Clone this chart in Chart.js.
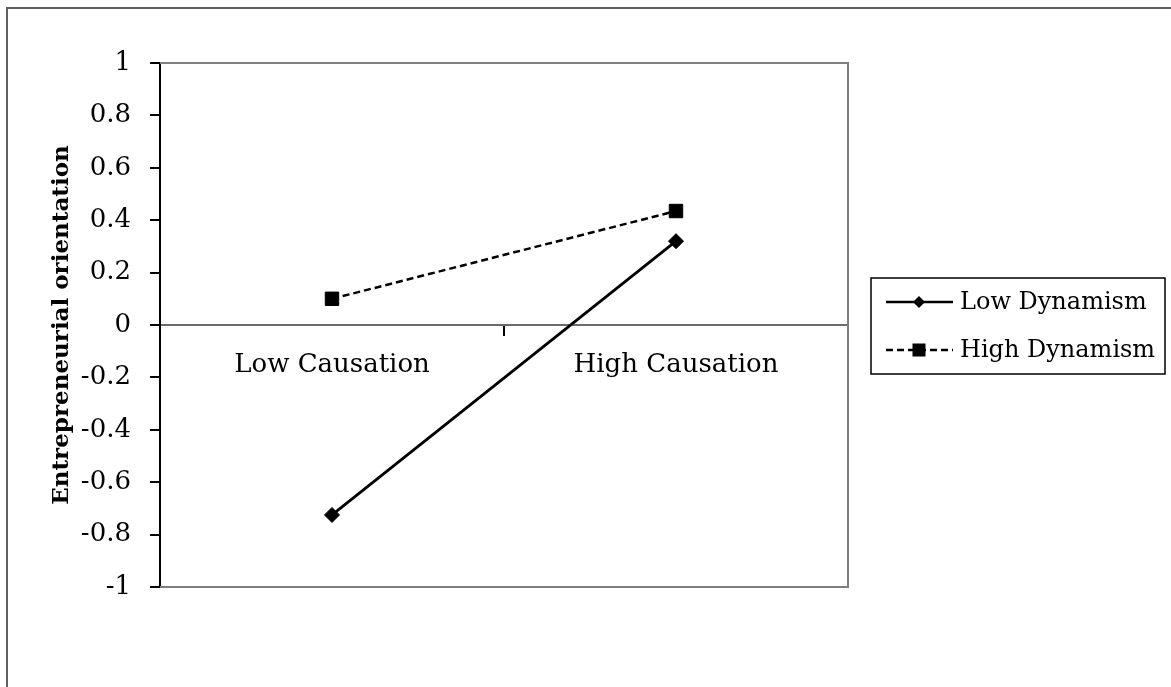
<!DOCTYPE html>
<html>
<head>
<meta charset="utf-8">
<script src="https://cdn.jsdelivr.net/npm/chart.js@4/dist/chart.umd.min.js"></script>
<style>
    html, body { margin: 0; padding: 0; background: #fff; overflow: hidden; }
    #chart { display: block; }
</style>
</head>
<body>
<canvas id="chart" width="1171" height="687"></canvas>
<script>
// Data
const categories = ["Low Causation", "High Causation"];
const lowDynamism = [-0.725, 0.32];
const highDynamism = [0.10, 0.435];
const seriesNames = ["Low Dynamism", "High Dynamism"];
const yTitle = "Entrepreneurial orientation";

const serif = "'DejaVu Serif', serif";

// Outer frame (left and top edges) plus gray frame around the plot area
const plotFrame = {
    id: "plotFrame",
    beforeDatasetsDraw(chart) {
        const { ctx, chartArea: a } = chart;
        ctx.save();
        ctx.strokeStyle = "#606060";
        ctx.lineWidth = 2;
        ctx.beginPath();
        ctx.moveTo(7, 700);
        ctx.lineTo(7, 8);
        ctx.lineTo(1200, 8);
        ctx.stroke();

        ctx.strokeStyle = "#7f7f7f";
        ctx.beginPath();
        ctx.moveTo(a.left, a.top);
        ctx.lineTo(a.right, a.top);
        ctx.lineTo(a.right, a.bottom);
        ctx.lineTo(a.left, a.bottom);
        ctx.stroke();
        ctx.restore();
    }
};

// Excel-like legend box on the right
const boxLegend = {
    id: "boxLegend",
    afterDraw(chart) {
        const ctx = chart.ctx;
        const x0 = 871, y0 = 278, w = 294, h = 96;
        ctx.save();
        ctx.strokeStyle = "#000";
        ctx.lineWidth = 1.5;
        ctx.strokeRect(x0, y0, w, h);
        chart.data.datasets.forEach((ds, i) => {
            const y = y0 + 24 + i * 48;
            ctx.strokeStyle = "#000";
            ctx.lineWidth = 2.5;
            ctx.setLineDash(ds.borderDash || []);
            ctx.beginPath();
            ctx.moveTo(886, y);
            ctx.lineTo(953, y);
            ctx.stroke();
            ctx.setLineDash([]);
            ctx.fillStyle = "#000";
            ctx.beginPath();
            if (ds.pointStyle === "rectRot") {
                const r = 6;
                ctx.moveTo(919, y - r);
                ctx.lineTo(919 + r, y);
                ctx.lineTo(919, y + r);
                ctx.lineTo(919 - r, y);
                ctx.closePath();
            } else {
                ctx.rect(919 - 6.5, y - 6.5, 13, 13);
            }
            ctx.fill();
            ctx.font = "24px " + serif;
            ctx.textBaseline = "middle";
            ctx.textAlign = "left";
            ctx.fillText(ds.label, 960, y + 1);
        });
        ctx.restore();
    }
};

new Chart(document.getElementById("chart"), {
    type: "line",
    data: {
        labels: categories,
        datasets: [
            {
                label: seriesNames[0],
                data: lowDynamism,
                borderColor: "#000",
                backgroundColor: "#000",
                borderWidth: 2.8,
                pointStyle: "rectRot",
                pointRadius: 7.5,
                pointBorderWidth: 1,
                tension: 0
            },
            {
                label: seriesNames[1],
                data: highDynamism,
                borderColor: "#000",
                backgroundColor: "#000",
                borderWidth: 2.5,
                borderDash: [7, 4],
                pointStyle: "rect",
                pointRadius: 9.5,
                pointBorderWidth: 1,
                tension: 0
            }
        ]
    },
    options: {
        responsive: false,
        animation: false,
        layout: { padding: { left: 0, top: 63, right: 323, bottom: 100 } },
        plugins: {
            legend: { display: false },
            tooltip: { enabled: false }
        },
        scales: {
            x: {
                type: "category",
                offset: true,
                position: { y: 0 },
                afterFit: (scale) => { scale.height = 0; },
                grid: {
                    offset: true,
                    drawOnChartArea: false,
                    drawTicks: true,
                    tickLength: 10,
                    color: "#000",
                    lineWidth: 2
                },
                border: { color: "#6b6b6b", width: 2 },
                ticks: {
                    color: "#000",
                    padding: 15,
                    font: { family: serif, size: 26 }
                }
            },
            y: {
                min: -1,
                max: 1,
                afterFit: (scale) => { scale.width = 160; },
                grid: {
                    drawOnChartArea: false,
                    drawTicks: true,
                    tickLength: 10,
                    color: "#000",
                    lineWidth: 2
                },
                border: { color: "#000", width: 2 },
                ticks: {
                    stepSize: 0.2,
                    color: "#000",
                    padding: 19,
                    font: { family: serif, size: 26 },
                    callback: (v) => String(Math.round(v * 10) / 10)
                },
                title: {
                    display: true,
                    text: yTitle,
                    color: "#000",
                    padding: { top: 48, bottom: 0 },
                    font: { family: serif, size: 23, weight: "bold" }
                }
            }
        }
    },
    plugins: [plotFrame, boxLegend]
});
</script>
</body>
</html>
